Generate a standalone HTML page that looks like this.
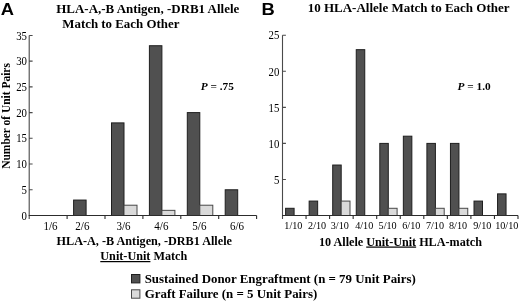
<!DOCTYPE html>
<html><head><meta charset="utf-8"><title>Figure</title>
<style>
html,body{margin:0;padding:0;background:#fff;}
svg{display:block;will-change:transform;opacity:.999}
text{font-family:"Liberation Serif","Times New Roman",serif;fill:#000}
.b{font-weight:bold}
.s{font-family:"Liberation Sans",Arial,sans-serif;font-weight:bold}
</style></head><body>
<svg width="520" height="303" viewBox="0 0 520 303">
<rect width="520" height="303" fill="#fff"/>
<rect x="73.60" y="200.06" width="12.50" height="15.43" fill="#505050" stroke="#1e1e1e" stroke-width="1"/>
<rect x="111.50" y="122.89" width="12.50" height="92.61" fill="#505050" stroke="#1e1e1e" stroke-width="1"/>
<rect x="124.00" y="205.21" width="13.00" height="10.29" fill="#dadada" stroke="#484848" stroke-width="1"/>
<rect x="149.40" y="45.72" width="12.50" height="169.78" fill="#505050" stroke="#1e1e1e" stroke-width="1"/>
<rect x="161.90" y="210.35" width="13.00" height="5.14" fill="#dadada" stroke="#484848" stroke-width="1"/>
<rect x="187.30" y="112.60" width="12.50" height="102.90" fill="#505050" stroke="#1e1e1e" stroke-width="1"/>
<rect x="199.80" y="205.21" width="13.00" height="10.29" fill="#dadada" stroke="#484848" stroke-width="1"/>
<rect x="225.20" y="189.78" width="12.50" height="25.72" fill="#505050" stroke="#1e1e1e" stroke-width="1"/>
<text transform="translate(27.00 219.60) scale(0.9 1)" font-size="12" text-anchor="end">0</text>
<text transform="translate(27.00 193.88) scale(0.9 1)" font-size="12" text-anchor="end">5</text>
<text transform="translate(27.00 168.15) scale(0.9 1)" font-size="12" text-anchor="end">10</text>
<text transform="translate(27.00 142.42) scale(0.9 1)" font-size="12" text-anchor="end">15</text>
<text transform="translate(27.00 116.70) scale(0.9 1)" font-size="12" text-anchor="end">20</text>
<text transform="translate(27.00 90.97) scale(0.9 1)" font-size="12" text-anchor="end">25</text>
<text transform="translate(27.00 65.25) scale(0.9 1)" font-size="12" text-anchor="end">30</text>
<text transform="translate(27.00 39.53) scale(0.9 1)" font-size="12" text-anchor="end">35</text>
<path d="M29.2 35.43V219.1M29.2 189.78h3.4M29.2 164.05h3.4M29.2 138.32h3.4M29.2 112.60h3.4M29.2 86.88h3.4M29.2 61.15h3.4M29.2 35.43h3.4" stroke="#4a4a4a" stroke-width="1.1" fill="none"/>
<path d="M28.7 215.5H256.60M67.10 215.5v3.6M105.00 215.5v3.6M142.90 215.5v3.6M180.80 215.5v3.6M218.70 215.5v3.6M256.60 215.5v3.6" stroke="#2c2c2c" stroke-width="1.1" fill="none"/>
<text transform="translate(50.50 229.70) scale(0.92 1)" font-size="12" text-anchor="middle">1/6</text>
<text transform="translate(82.40 229.70) scale(0.92 1)" font-size="12" text-anchor="middle">2/6</text>
<text transform="translate(123.50 229.70) scale(0.92 1)" font-size="12" text-anchor="middle">3/6</text>
<text transform="translate(161.40 229.70) scale(0.92 1)" font-size="12" text-anchor="middle">4/6</text>
<text transform="translate(199.40 229.70) scale(0.92 1)" font-size="12" text-anchor="middle">5/6</text>
<text transform="translate(237.00 229.70) scale(0.92 1)" font-size="12" text-anchor="middle">6/6</text>
<rect x="285.60" y="208.29" width="8.50" height="7.21" fill="#505050" stroke="#1e1e1e" stroke-width="1"/>
<rect x="309.15" y="201.08" width="8.50" height="14.42" fill="#505050" stroke="#1e1e1e" stroke-width="1"/>
<rect x="332.70" y="165.03" width="8.50" height="50.47" fill="#505050" stroke="#1e1e1e" stroke-width="1"/>
<rect x="341.20" y="201.08" width="8.80" height="14.42" fill="#dadada" stroke="#484848" stroke-width="1"/>
<rect x="356.25" y="49.67" width="8.50" height="165.83" fill="#505050" stroke="#1e1e1e" stroke-width="1"/>
<rect x="379.80" y="143.40" width="8.50" height="72.10" fill="#505050" stroke="#1e1e1e" stroke-width="1"/>
<rect x="388.30" y="208.29" width="8.80" height="7.21" fill="#dadada" stroke="#484848" stroke-width="1"/>
<rect x="403.35" y="136.19" width="8.50" height="79.31" fill="#505050" stroke="#1e1e1e" stroke-width="1"/>
<rect x="426.90" y="143.40" width="8.50" height="72.10" fill="#505050" stroke="#1e1e1e" stroke-width="1"/>
<rect x="435.40" y="208.29" width="8.80" height="7.21" fill="#dadada" stroke="#484848" stroke-width="1"/>
<rect x="450.45" y="143.40" width="8.50" height="72.10" fill="#505050" stroke="#1e1e1e" stroke-width="1"/>
<rect x="458.95" y="208.29" width="8.80" height="7.21" fill="#dadada" stroke="#484848" stroke-width="1"/>
<rect x="474.00" y="201.08" width="8.50" height="14.42" fill="#505050" stroke="#1e1e1e" stroke-width="1"/>
<rect x="497.55" y="193.87" width="8.50" height="21.63" fill="#505050" stroke="#1e1e1e" stroke-width="1"/>
<text transform="translate(279.40 183.65) scale(0.9 1)" font-size="12" text-anchor="end">5</text>
<text transform="translate(279.40 147.60) scale(0.9 1)" font-size="12" text-anchor="end">10</text>
<text transform="translate(279.40 111.55) scale(0.9 1)" font-size="12" text-anchor="end">15</text>
<text transform="translate(279.40 75.50) scale(0.9 1)" font-size="12" text-anchor="end">20</text>
<text transform="translate(279.40 39.45) scale(0.9 1)" font-size="12" text-anchor="end">25</text>
<path d="M282.5 35.25V219.1M282.5 179.45h3.4M282.5 143.40h3.4M282.5 107.35h3.4M282.5 71.30h3.4M282.5 35.25h3.4" stroke="#4a4a4a" stroke-width="1.1" fill="none"/>
<path d="M282.0 215.5H518.00M306.05 215.5v3.6M329.60 215.5v3.6M353.15 215.5v3.6M376.70 215.5v3.6M400.25 215.5v3.6M423.80 215.5v3.6M447.35 215.5v3.6M470.90 215.5v3.6M494.45 215.5v3.6M518.00 215.5v3.6" stroke="#2c2c2c" stroke-width="1.1" fill="none"/>
<text transform="translate(293.38 229.20) scale(0.9 1)" font-size="11.3" text-anchor="middle">1/10</text>
<text transform="translate(317.12 229.20) scale(0.9 1)" font-size="11.3" text-anchor="middle">2/10</text>
<text transform="translate(339.77 229.20) scale(0.9 1)" font-size="11.3" text-anchor="middle">3/10</text>
<text transform="translate(364.23 229.20) scale(0.9 1)" font-size="11.3" text-anchor="middle">4/10</text>
<text transform="translate(387.58 229.20) scale(0.9 1)" font-size="11.3" text-anchor="middle">5/10</text>
<text transform="translate(411.32 229.20) scale(0.9 1)" font-size="11.3" text-anchor="middle">6/10</text>
<text transform="translate(434.98 229.20) scale(0.9 1)" font-size="11.3" text-anchor="middle">7/10</text>
<text transform="translate(458.02 229.20) scale(0.9 1)" font-size="11.3" text-anchor="middle">8/10</text>
<text transform="translate(482.28 229.20) scale(0.9 1)" font-size="11.3" text-anchor="middle">9/10</text>
<text transform="translate(506.73 229.20) scale(0.9 1)" font-size="11.3" text-anchor="middle">10/10</text>
<text class="s" transform="translate(0.7 14.55) scale(1.08 1)" font-size="17">A</text>
<text class="s" transform="translate(261.5 14.55) scale(1.08 1)" font-size="17">B</text>
<text class="b" x="56.3" y="12.9" font-size="12.95">HLA-A,-B Antigen, -DRB1 Allele</text>
<text class="b" x="62.3" y="27.9" font-size="12.9">Match to Each Other</text>
<text class="b" x="307.7" y="12.4" font-size="13">10 HLA-Allele Match to Each Other</text>
<text class="b" x="200.7" y="89.7" font-size="11.3"><tspan font-style="italic">P</tspan> = .75</text>
<text class="b" x="457.5" y="89.7" font-size="11.3"><tspan font-style="italic">P</tspan> = 1.0</text>
<text class="b" transform="translate(9.8 115.95) rotate(-90)" font-size="11.45" text-anchor="middle">Number of Unit Pairs</text>
<text class="b" x="56.6" y="245.3" font-size="12.2">HLA-A, -B Antigen, -DRB1 Allele</text>
<text class="b" x="100.3" y="260" font-size="12.2"><tspan text-decoration="underline">Unit-Unit</tspan> Match</text>
<text class="b" x="319" y="245.5" font-size="12.15">10 Allele <tspan text-decoration="underline">Unit-Unit</tspan> HLA-match</text>
<rect x="131.5" y="274.5" width="8.4" height="8.4" fill="#505050" stroke="#1e1e1e" stroke-width="1"/>
<rect x="131.5" y="289.8" width="8.4" height="8.4" fill="#dadada" stroke="#484848" stroke-width="1"/>
<text class="b" x="144.7" y="283" font-size="12.9">Sustained Donor Engraftment (n = 79 Unit Pairs)</text>
<text class="b" x="144.7" y="298.2" font-size="12.9">Graft Failure (n = 5 Unit Pairs)</text>
</svg></body></html>
